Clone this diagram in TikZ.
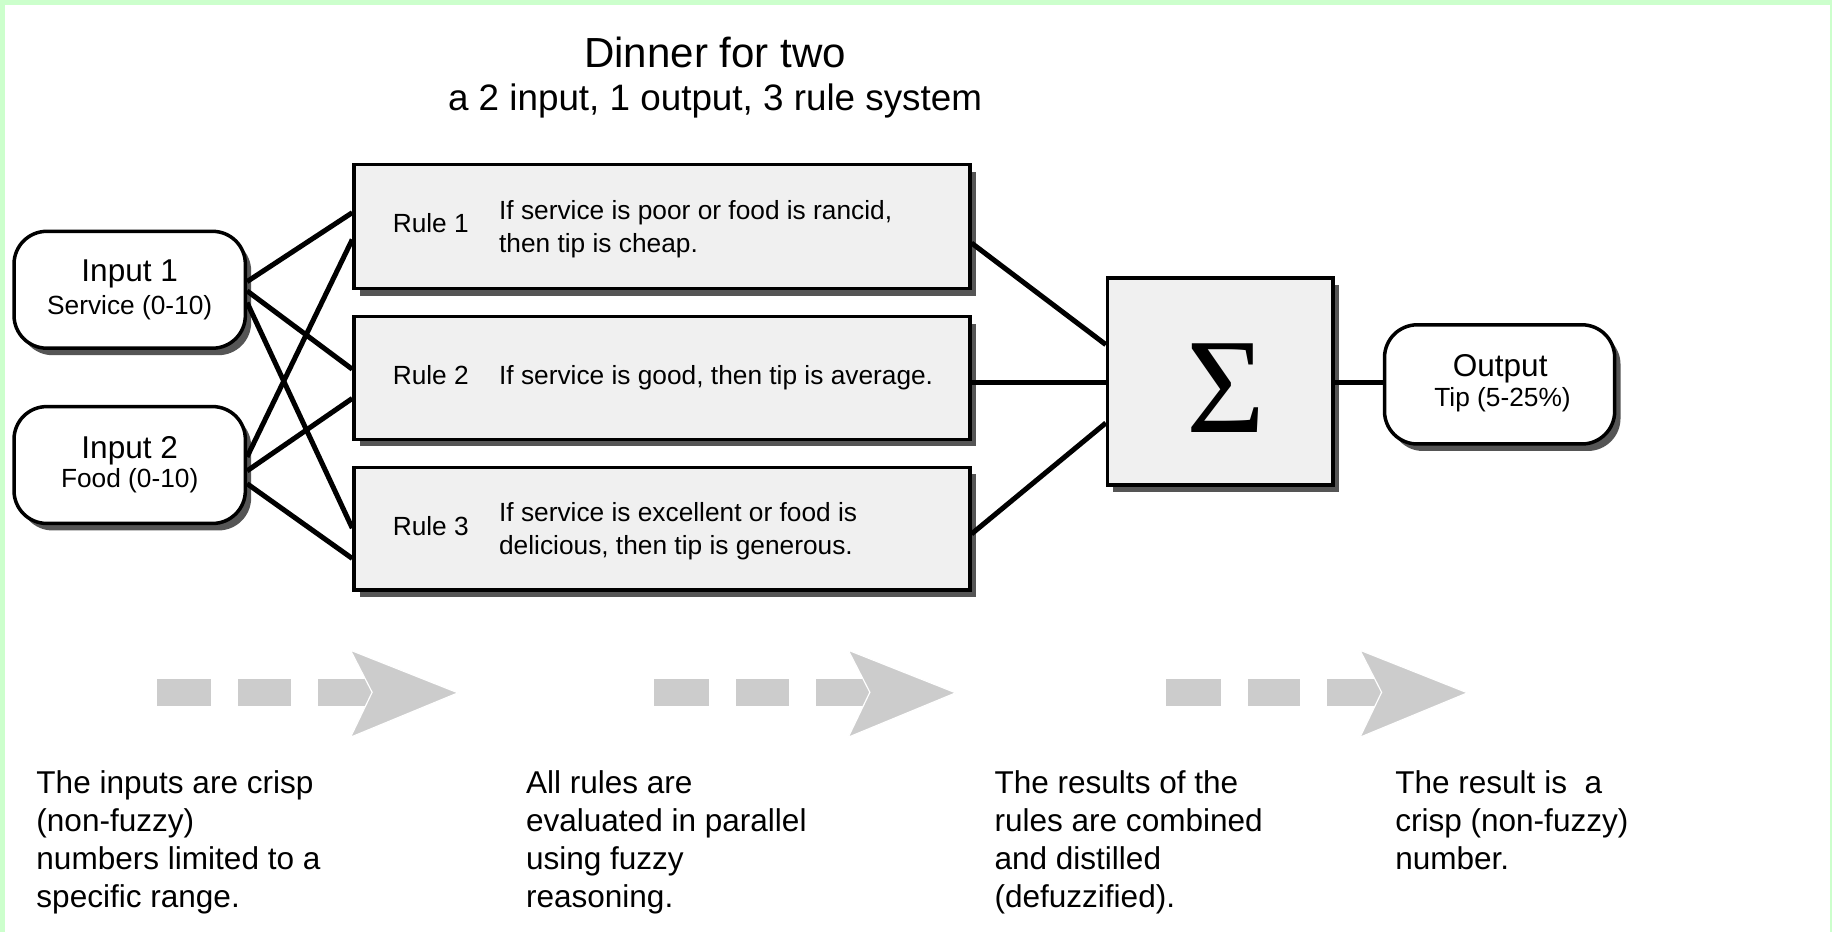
\documentclass[tikz,border=0pt]{standalone}
\usepackage{fontspec}
\setmainfont{Liberation Sans}
\newfontfamily\sigmafont{Liberation Serif}
\usetikzlibrary{shadows,calc}
\definecolor{framegreen}{HTML}{CCFFCC}
\definecolor{boxfill}{HTML}{F0F0F0}
\definecolor{arrowgray}{HTML}{CCCCCC}
\definecolor{shadowgray}{HTML}{555555}
\tikzset{
  boxshadow/.style={drop shadow={shadow xshift=5pt,shadow yshift=-6pt,fill=shadowgray,opacity=1}},
  rulebox/.style={draw=black,line width=3pt,fill=boxfill,minimum width=527pt,minimum height=106pt,inner sep=0pt,boxshadow},
  sigbox/.style={draw=black,line width=3pt,fill=boxfill,minimum width=193pt,minimum height=177pt,inner sep=0pt,boxshadow},
  iobox/.style={draw=black,line width=3pt,fill=white,rounded corners=28pt,minimum width=198pt,minimum height=100pt,inner sep=0pt,boxshadow},
  link/.style={line width=4.3pt},
  iohead/.style={anchor=base,inner sep=0pt,font=\fontsize{27}{30}\selectfont},
  iosub/.style={anchor=base,inner sep=0pt,font=\fontsize{22.5}{26}\selectfont},
  rulelab/.style={anchor=base west,inner sep=0pt,font=\fontsize{22.5}{28.5}\selectfont},
  ruletxt/.style={anchor=base west,inner sep=0pt,font=\fontsize{22.5}{28.5}\selectfont},
  desc/.style={anchor=base west,inner sep=0pt,font=\fontsize{27}{32.7}\selectfont},
  fatdash/.pic={
    \fill[arrowgray] (0,581) rectangle (47,604.5);
    \fill[arrowgray] (70,581) rectangle (115,604.5);
    \fill[arrowgray] (138,581) rectangle (186,604.5);
    \fill[arrowgray,draw=white,line width=1pt] (166,556.5) -- (184.5,592.5) -- (166,631) -- (258,593) -- cycle;
  }
}
\begin{document}
\begin{tikzpicture}[x=1pt,y=-1pt]
\useasboundingbox (0,0) rectangle (1568,797.7);
\fill[white] (0,0) rectangle (1568,797.7);
\fill[framegreen] (0,0) rectangle (1568,4.3);
\fill[framegreen] (0,0) rectangle (4.3,797.7);
\fill[framegreen] (1566.3,0) rectangle (1568,797.7);

% title
\node[anchor=base,inner sep=0pt,font=\fontsize{36}{40}\selectfont] (title) at (612,58) {Dinner for two};
\node[anchor=base,inner sep=0pt,font=\fontsize{31.5}{36}\selectfont] (subtitle) at (612,95) {a 2 input, 1 output, 3 rule system};

% boxes
\node[iobox] (in1) at (111,248) {};
\node[iobox] (in2) at (111,398) {};
\node[rulebox] (r1) at (566.5,194) {};
\node[rulebox,minimum height=105pt] (r2) at (566.5,323.5) {};
\node[rulebox,minimum height=105pt] (r3) at (566.5,452.5) {};
\node[sigbox] (sig) at (1044.5,326.5) {};
\node[iobox,minimum width=197pt,minimum height=102pt] (out) at (1283.5,329) {};

% box texts
\node[iohead] (in1a) at (111,241) {Input 1};
\node[iosub] (in1b) at (111,269) {Service (0-10)};
\node[iohead] (in2a) at (111,392) {Input 2};
\node[iosub] (in2b) at (111,417) {Food (0-10)};
\node[iohead] (outa) at (1284,322) {Output};
\node[iosub] (outb) at (1286,348) {Tip (5-25\%)};

\node[rulelab] (r1lab) at (336,199) {Rule 1};
\node[ruletxt] (r1txt) at (427,187.5) {\parbox[t]{390pt}{If service is poor or food is rancid,\\then tip is cheap.}};
\node[rulelab] (r2lab) at (336,329) {Rule 2};
\node[ruletxt] (r2txt) at (427,329) {If service is good, then tip is average.};
\node[rulelab] (r3lab) at (336,458) {Rule 3};
\node[ruletxt] (r3txt) at (427,446) {\parbox[t]{390pt}{If service is excellent or food is\\delicious, then tip is generous.}};

\node[inner sep=0pt,font=\sigmafont\fontsize{116}{116}\selectfont] (sigt) at (1049.5,332) {Σ};

% connectors
\draw[link] ([yshift=7pt]in1.east) -- ([yshift=12pt]r1.west);
\draw[link] ([yshift=-1pt]in1.east) -- ([yshift=7.5pt]r2.west);
\draw[link] ([yshift=-11pt]in1.east) -- ([yshift=0.5pt]r3.west);
\draw[link] ([yshift=7pt]in2.east) -- ([yshift=-11pt]r1.west);
\draw[link] ([yshift=-5pt]in2.east) -- ([yshift=-17.5pt]r2.west);
\draw[link] ([yshift=-16pt]in2.east) -- ([yshift=-25.5pt]r3.west);
\draw[link] ([yshift=-14pt]r1.east) -- ([yshift=31.5pt]sig.west);
\draw[link] ([yshift=-3.5pt]r2.east) -- ([yshift=-0.5pt]sig.west);
\draw[link] ([yshift=-4.5pt]r3.east) -- ([yshift=-35.5pt]sig.west);
\draw[link] ([yshift=-0.5pt]sig.east) -- ([yshift=2pt]out.west);

% gray flow arrows
\pic at (134,0) {fatdash};
\pic at (560,0) {fatdash};
\pic at (998,0) {fatdash};

% descriptions
\node[desc] (d1) at (31,679) {\parbox[t]{330pt}{The inputs are crisp\\(non-fuzzy)\\numbers limited to a\\specific range.}};
\node[desc] (d2) at (450,679) {\parbox[t]{330pt}{All rules are\\evaluated in parallel\\using fuzzy\\reasoning.}};
\node[desc] (d3) at (851,679) {\parbox[t]{330pt}{The results of the\\rules are combined\\and distilled\\(defuzzified).}};
\node[desc] (d4) at (1194,679) {\parbox[t]{330pt}{The result is\ \ a\\crisp (non-fuzzy)\\number.}};
\end{tikzpicture}
\end{document}
